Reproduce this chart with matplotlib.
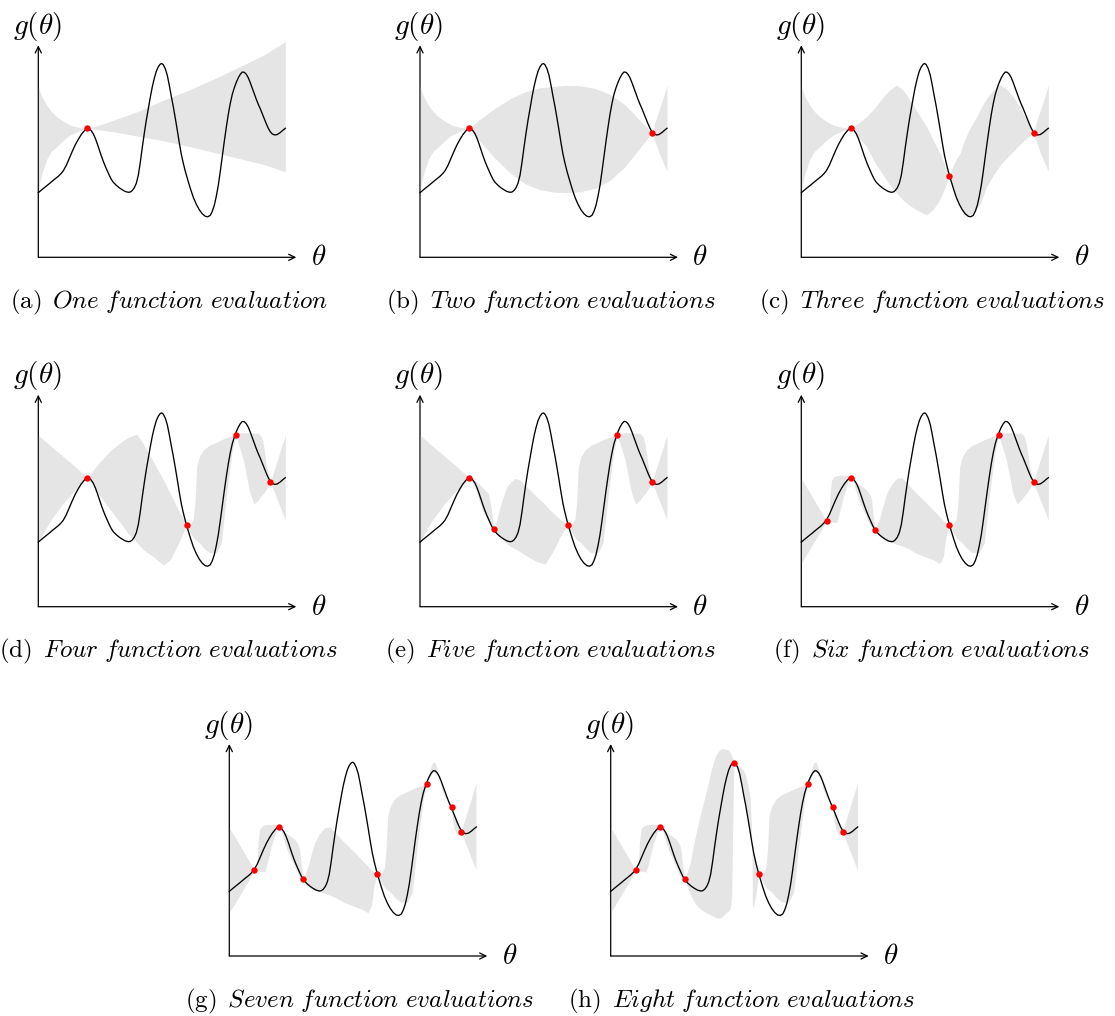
import matplotlib
matplotlib.use("Agg")
import matplotlib.pyplot as plt

plt.rcParams["mathtext.fontset"] = "cm"
plt.rcParams["font.family"] = "serif"
plt.rcParams["font.serif"] = ["cmr10", "DejaVu Serif"]
plt.rcParams["axes.formatter.use_mathtext"] = True

# objective g(theta) (units = pixels from the axis origin)
theta = [0, 5, 10, 15, 20, 23, 25, 28, 31, 34, 37, 40, 43, 46, 48, 49.5, 51, 53, 55,
         57, 59, 61, 63, 65, 67, 69, 71, 73, 75, 78, 81, 84, 87, 90, 92, 94, 96, 98,
         100, 102, 104, 106, 108, 110, 112, 114, 116, 118, 120, 122, 123.5, 125, 127,
         129, 131, 133, 135, 137, 139, 141, 143, 145, 147, 149, 152, 155, 158, 161,
         164, 167, 169.5, 172, 174, 176, 178, 180, 182, 184, 186, 188, 190, 192, 194,
         196, 198, 200, 202, 204, 206, 208, 210, 212, 214, 216, 218, 220, 222, 224,
         226, 228, 230, 232, 234, 236.5, 239, 242, 244.5, 247]
g = [64.6, 68.8, 72.8, 77, 81, 84, 86.5, 92, 99, 106, 112.5, 118, 122.8, 126.5, 128.5,
     129, 128.5, 126.5, 123.5, 119, 113.5, 107.5, 101.5, 96, 91, 86.5, 82, 78, 75, 72,
     69.5, 67.5, 65.8, 65, 65.3, 66.8, 69.5, 74, 82, 95, 110, 124, 137, 148.5, 160,
     170.5, 179, 186, 190.5, 193.2, 193.8, 192.5, 188.5, 182, 172, 161, 150.6, 139, 127,
     114.5, 103, 94, 86, 79, 69, 60, 53, 47.5, 43.5, 41, 40.5, 42, 46, 52, 61, 72, 86,
     101, 116, 130, 143, 154, 163, 169.5, 175, 179.5, 183, 185.3, 185, 183, 179.5, 174.5,
     169, 163.5, 158, 153, 148.5, 143.5, 138.5, 133.5, 129, 125.5, 123.3, 122.3, 122.8,
     124.8, 127, 129]

# pieces of the grey uncertainty band: theta, upper edge, lower edge
left_a_u = [0, 1.5, 4, 8.4, 13, 18.4, 25, 31.7, 40, 49]
left_a_hi = [171.5, 166, 160, 152.3, 146, 140.6, 136, 132.3, 130, 129]
left_a_lo = [64.6, 75, 85, 98, 106, 110.6, 117, 122.3, 126, 129]

right_a_u = [49, 60, 75, 100, 125, 150, 175, 200, 225, 247]
right_a_hi = [129, 132, 137, 146, 157, 167, 178, 190, 202, 215.7]
right_a_lo = [129, 127.5, 125.6, 121, 116.6, 111, 105, 99, 93, 85.6]

mid_b_u = [49.3, 60, 75, 90, 105, 120, 135, 147, 160, 175, 190, 205, 218, 232]
mid_b_hi = [129, 138, 149, 158.5, 165.5, 169.5, 171, 172, 171.5, 169, 163, 152.5, 139, 124.7]
mid_b_lo = [129, 116, 99, 84.5, 73.5, 67.5, 65, 64.6, 65.5, 69, 77, 90.5, 107, 124.7]

flare_b_u = [232, 236, 240, 244, 247]
flare_b_hi = [124.7, 138, 150, 162, 172.3]
flare_b_lo = [124.7, 113, 102, 93, 86]

c1_u = [49.3, 57, 65.3, 74, 82, 88, 95.3, 102, 108.7, 117, 125.3, 132, 138.7, 143.3, 148]
c1_hi = [129, 134, 140.7, 150, 160.7, 167, 172.3, 167, 157.3, 144, 130.7, 117, 104, 93, 81.3]
c1_lo = [129, 120, 110.7, 94, 82, 73, 64.5, 57, 51.5, 46.5, 42.3, 48, 58, 69, 81.3]

c2_u = [148, 152, 155.3, 158.7, 162, 167, 172, 175.3, 180, 185.3, 192, 198.7, 205, 212,
        218.7, 225.3, 232.3]
c2_hi = [81.3, 92, 99, 104, 114, 126, 135, 140.7, 150, 159, 167.3, 172.3, 168.5, 160.7,
         150, 137.3, 124.7]
c2_lo = [81.3, 67, 57.3, 50, 42.3, 42, 44, 48, 56, 70.7, 82, 92, 99, 106, 113, 119, 124.7]

left_d_u = [0, 12, 24.5, 37, 49]
left_d_hi = [171.7, 161, 150.5, 140, 129]
left_d_lo = [65, 86, 103, 117, 129]

d1_u = [49, 60, 72, 82, 90, 98.3, 105, 115, 125, 132, 140, 148.3]
d1_hi = [129, 143, 156, 164, 169.5, 172.7, 163, 145, 127, 113, 97, 81.7]
d1_lo = [129, 113, 97, 84, 73, 64.5, 57, 50, 41.7, 47, 63, 81.7]

d2_u = [148.3, 152, 155, 156.7, 158.3, 161, 165, 171, 178, 183, 188, 194, 197.3]
d2_hi = [81.7, 83, 88, 105, 140, 150, 156.7, 161.5, 164.5, 167, 169, 171, 171.7]
d2_lo = [81.7, 74, 69, 67, 66, 64, 59, 54, 54, 64, 110, 157, 171.7]

d3_u = [197.3, 201, 205, 208.3, 211.7, 215.7, 220, 223, 225, 228.3, 232]
d3_hi = [171.7, 173.5, 174, 174, 173.8, 173.5, 173.3, 170, 163.3, 140, 124.7]
d3_lo = [171.7, 160, 146.7, 130, 113.3, 102.7, 106.7, 111, 113, 118, 124.7]

flare_d_u = [232, 247]
flare_d_hi = [124.7, 171.7]
flare_d_lo = [124.7, 86.7]

e1_u = [49, 52, 56.7, 60, 63.3, 68.3, 71, 72.7, 74]
e1_hi = [129, 128, 125, 122, 118.3, 113.3, 100, 86.7, 77.3]
e1_lo = [129, 125, 115, 103, 94, 85.5, 81.5, 79, 77.3]

e2_u = [74, 77, 80, 83.3, 86.7, 91, 95, 100, 108, 116.7, 125, 131.7, 136, 140, 144, 148]
e2_hi = [77.3, 88, 100, 110, 120, 125, 128.3, 126.7, 118.5, 110, 102, 95, 91, 87.5, 84.5, 81.7]
e2_lo = [77.3, 72, 69, 66.7, 63, 60, 58, 55, 50, 45, 42.7, 53.3, 61, 70, 76, 81.7]

left_f_u = [0, 25.3]
left_f_hi = [128.3, 85.7]
left_f_lo = [43.3, 85.7]

f1_u = [25.3, 27.7, 28.7, 30.3, 32, 35.3, 38, 42, 45.3, 47, 49.3]
f1_hi = [85.7, 90, 113.3, 126.7, 129.5, 131, 131.5, 131.7, 131.7, 131, 129]
f1_lo = [85.7, 85.3, 85, 85, 84.5, 84, 93.3, 110, 120, 125, 129]

f2_u = [49.3, 52, 55.3, 58.7, 62, 65.3, 68.7, 70.3, 72, 74]
f2_hi = [129, 127, 124, 121.7, 119.5, 116.7, 112, 106.7, 90, 77]
f2_lo = [129, 125, 113.3, 104, 96.7, 89, 81.7, 79.5, 78, 77]

f3_u = [74, 76.5, 78.7, 82, 85.3, 90, 95.3, 100.3, 108, 115.3, 124, 132, 138.7, 142, 144.7, 148]
f3_hi = [77, 84, 90, 102, 113.3, 122, 128.3, 129.3, 121, 113.3, 105, 96.7, 89.5, 86, 84, 81.7]
f3_lo = [77, 72, 70, 67.5, 66, 64.5, 62.5, 61, 57.5, 53.3, 50, 47, 43.3, 50, 70, 81.7]

g4_u = [197.3, 200, 203, 205, 207, 209, 212, 215, 219, 222.3]
g4_hi = [172, 185, 193, 194.3, 190, 182, 168, 160, 155, 149.5]
g4_lo = [172, 178, 183, 184, 182, 178, 172, 163, 153, 149.5]

g5_u = [222.3, 223.5, 225, 228, 231.7]
g5_hi = [149.5, 147, 143, 135, 124.3]
g5_lo = [149.5, 135, 127, 121, 124.3]

flare_g_u = [231.7, 246.7]
flare_g_hi = [124.3, 172.7]
flare_g_lo = [124.3, 86]

h3_u = [74, 76.5, 79.3, 82.5, 86, 91, 96, 100, 104.3, 108, 111, 114, 117.7, 119.5, 121,
        122.3, 123.3]
h3_hi = [77, 84, 92.7, 109, 126, 147, 166, 184, 199.3, 205, 207.7, 207, 206, 203, 200,
         197, 193.3]
h3_lo = [77, 70, 62.7, 56, 50.5, 46, 43, 41, 39, 37.7, 39, 42, 45, 47, 60, 150, 193.3]

h4_u = [123.3, 127, 131, 134.3, 137, 139.3, 140.5, 141.3, 141.7, 143, 145.5, 148]
h4_hi = [193.3, 191, 188, 182.7, 172, 159.3, 135, 100, 49.3, 50, 64, 81.7]
h4_lo = [193.3, 188, 172, 155, 140, 126, 118, 114, 111, 104, 92, 81.7]

# evaluated points (theta, g)
pts_a = ([49], [129])
pts_b = ([49.3, 232], [129, 124.7])
pts_c = ([49.3, 148, 232.3], [129, 81.3, 124.7])
pts_d = ([49, 148.3, 197.3, 232], [129, 81.7, 171.7, 124.7])
pts_e = ([49, 74, 148, 197.3, 232], [129, 77.3, 81.7, 171.7, 124.7])
pts_f = ([25.3, 49.3, 74, 148, 197.7, 232.3], [85.7, 129, 77, 81.7, 171.7, 124.7])
pts_g = ([24.7, 49.3, 73.7, 148, 197.3, 222.3, 231.7],
         [85.7, 129, 77, 81.7, 172, 149.5, 124.3])
pts_h = ([25, 49.3, 74, 123.3, 148, 197.3, 222.3, 232],
         [85.7, 129, 77, 193.3, 81.7, 172, 149.5, 124.3])

captions = ["One function evaluation", "Two function evaluations",
            "Three function evaluations", "Four function evaluations",
            "Five function evaluations", "Six function evaluations",
            "Seven function evaluations", "Eight function evaluations"]
letters = list("abcdefgh")

A = (left_a_u, left_a_hi, left_a_lo)
B = (mid_b_u, mid_b_hi, mid_b_lo)
FB = (flare_b_u, flare_b_hi, flare_b_lo)
C1 = (c1_u, c1_hi, c1_lo)
C2 = (c2_u, c2_hi, c2_lo)
LD = (left_d_u, left_d_hi, left_d_lo)
D1 = (d1_u, d1_hi, d1_lo)
D2 = (d2_u, d2_hi, d2_lo)
D3 = (d3_u, d3_hi, d3_lo)
FD = (flare_d_u, flare_d_hi, flare_d_lo)
E1 = (e1_u, e1_hi, e1_lo)
E2 = (e2_u, e2_hi, e2_lo)
LF = (left_f_u, left_f_hi, left_f_lo)
F1 = (f1_u, f1_hi, f1_lo)
F2 = (f2_u, f2_hi, f2_lo)
F3 = (f3_u, f3_hi, f3_lo)
G4 = (g4_u, g4_hi, g4_lo)
G5 = (g5_u, g5_hi, g5_lo)
FG = (flare_g_u, flare_g_hi, flare_g_lo)
H3 = (h3_u, h3_hi, h3_lo)
H4 = (h4_u, h4_hi, h4_lo)

bands = [
    [A, (right_a_u, right_a_hi, right_a_lo)],
    [A, B, FB],
    [A, C1, C2, FB],
    [LD, D1, D2, D3, FD],
    [LD, E1, E2, D2, D3, FD],
    [LF, F1, F2, F3, D2, D3, FD],
    [LF, F1, F2, F3, D2, G4, G5, FG],
    [LF, F1, F2, H3, H4, D2, G4, G5, FG],
]
points = [pts_a, pts_b, pts_c, pts_d, pts_e, pts_f, pts_g, pts_h]

# pixel position of each panel's axis origin
origins = [(38.3, 257.3), (420, 257.3), (801.3, 257.3),
           (38.3, 606.7), (420, 606.7), (801.3, 606.7),
           (229.3, 956), (610.7, 956)]

W, H = 1115, 1016
fig = plt.figure(figsize=(W / 100, H / 100), dpi=100)

arrow = dict(arrowstyle="->,head_length=0.45,head_width=0.22", lw=0.9,
             color="black", shrinkA=0, shrinkB=0)

for k in range(8):
    ox, oy = origins[k]
    ax = fig.add_axes([(ox - 10) / W, (H - oy - 10) / H, 300 / W, 235 / H])
    ax.set_xlim(-10, 290)
    ax.set_ylim(-10, 225)
    ax.axis("off")

    ax.annotate("", xy=(258, 0), xytext=(0, 0), arrowprops=arrow, zorder=1)
    ax.annotate("", xy=(0, 212), xytext=(0, 0), arrowprops=arrow, zorder=1)

    u, hi, lo = [], [], []
    for su, sh, sl in bands[k]:
        u += su
        hi += sh
        lo += sl
    ax.fill_between(u, lo, hi, color="#bfbfbf", alpha=0.4, lw=0, zorder=2)

    ax.plot(theta, g, color="black", lw=0.95, zorder=3)
    pu, pv = points[k]
    ax.plot(pu, pv, "o", color="red", ms=4.6, mew=0, zorder=4)

    ax.text(-1, 231, r"$g(\theta)$", fontsize=21, ha="center", va="center")
    ax.text(280, -1, r"$\theta$", fontsize=21, ha="center", va="center")
    cap = r"$\mathrm{(%s)}\ \,\mathit{%s}$" % (letters[k], captions[k].replace(" ", r"\ "))
    ax.text(130.5, -45, cap, fontsize=18, ha="center", va="center")

fig.savefig("out.png", dpi=100)
